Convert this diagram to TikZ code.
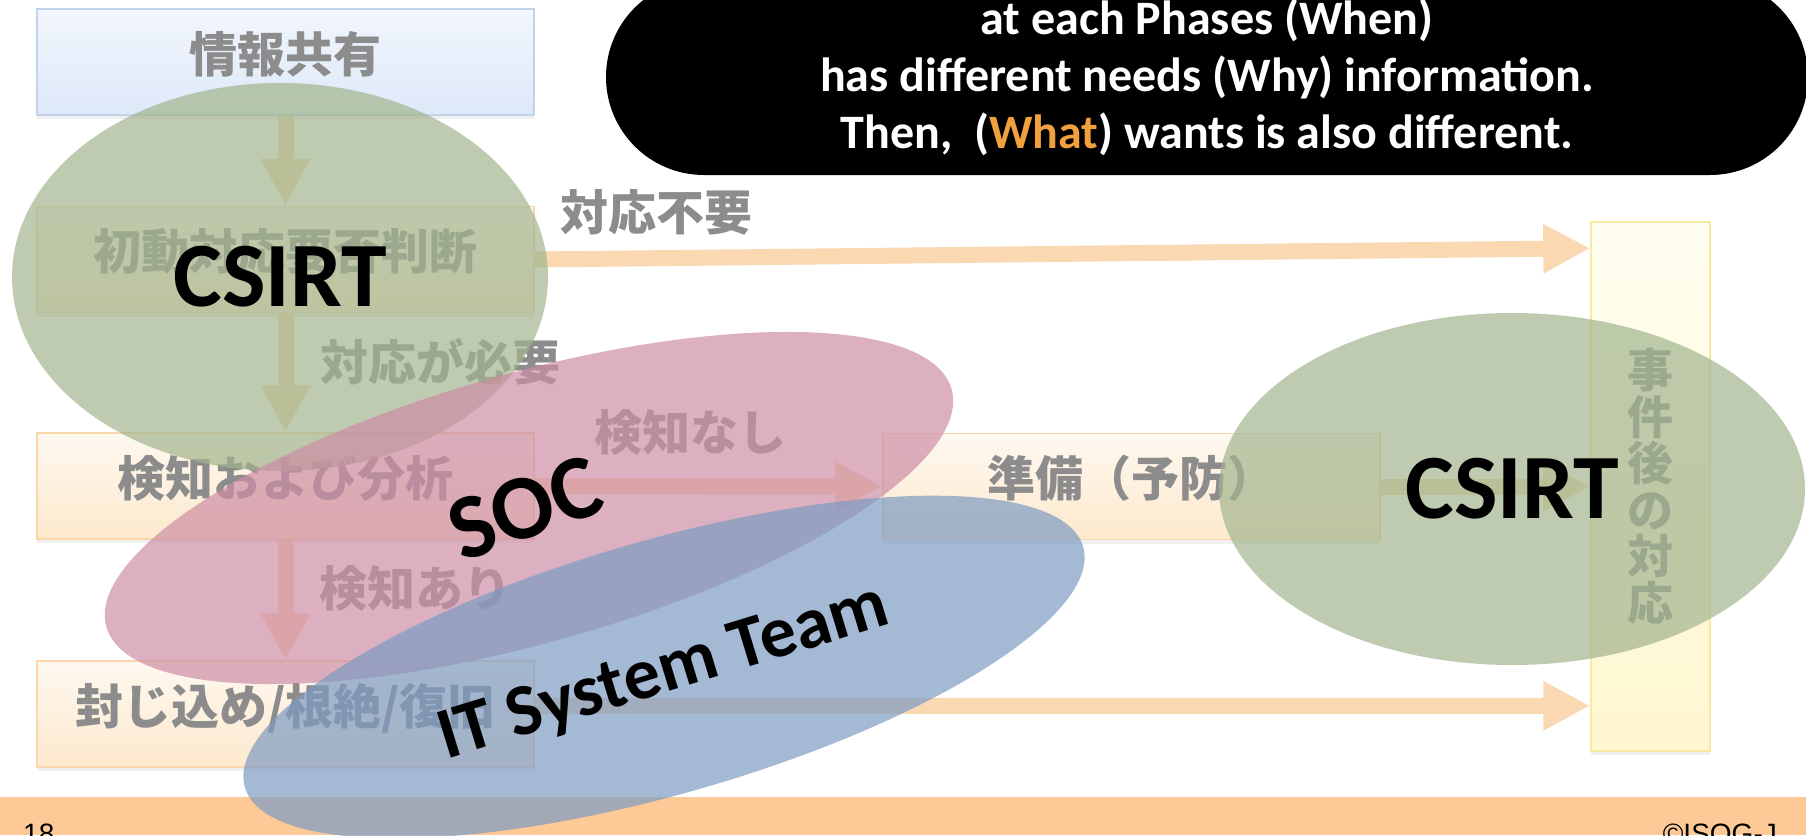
\documentclass[tikz,border=0pt]{standalone}
\usepackage{fontspec}
\setmainfont{Carlito}
\newfontfamily\jp{Noto Sans CJK JP}
\newfontfamily\arialf{Liberation Sans}
\usepackage{tikz}
\usetikzlibrary{shapes.geometric,shapes.misc,arrows.meta,shadows}
\usepackage{xcolor}

\definecolor{boxtext}{RGB}{140,140,140}
\definecolor{flowarrow}{RGB}{249,216,178}
\definecolor{orangetop}{RGB}{254,248,240}
\definecolor{orangebot}{RGB}{253,233,205}
\definecolor{orangeline}{RGB}{250,214,170}
\definecolor{bluetop}{RGB}{242,246,253}
\definecolor{bluebot}{RGB}{221,232,248}
\definecolor{blueline}{RGB}{192,211,235}
\definecolor{yellowtop}{RGB}{255,253,240}
\definecolor{yellowbot}{RGB}{255,247,208}
\definecolor{yellowline}{RGB}{249,233,160}
\definecolor{csirtgreen}{RGB}{162,181,142}
\definecolor{socpink}{RGB}{205,142,165}
\definecolor{itblue}{RGB}{125,155,194}
\definecolor{footband}{RGB}{252,201,151}
\definecolor{whatorange}{RGB}{240,160,60}

\tikzset{
  phase/.style={draw=orangeline, line width=1.5pt, top color=orangetop, bottom color=orangebot,
    minimum width=497pt, minimum height=106pt, inner sep=0pt, text=boxtext,
    text height=40pt, text depth=20pt,
    font=\jp\bfseries\fontsize{48}{56}\selectfont,
    drop shadow={opacity=0.12, shadow xshift=0pt, shadow yshift=-4pt}},
  flow/.style={draw=flowarrow, line width=16pt, -{Triangle[width=46pt,length=47pt]}},
  lbl/.style={text=boxtext, inner sep=0pt, font=\jp\bfseries\fontsize{48}{56}\selectfont},
  team/.style={ellipse, inner sep=0pt, fill opacity=0.7},
  teamname/.style={inner sep=0pt, font=\bfseries\fontsize{92}{100}\selectfont},
}

\begin{document}
\begin{tikzpicture}[x=1pt,y=-1pt]
\useasboundingbox (0,0) rectangle (1806,835);
\clip (0,0) rectangle (1806,835);
% phases
\node[phase, draw=blueline, top color=bluetop, bottom color=bluebot] (share) at (285.5,62) {情報共有};
\node[phase] (judge) at (285.5,259.5) {初動対応要否判断};
\node[phase] (detect) at (285.5,486) {検知および分析};
\node[phase] (contain) at (285.5,714) {封じ込め/根絶/復旧};
\node[phase] (prep) at (1131.5,486.5) {準備（予防）};
\node[phase, draw=yellowline, top color=yellowtop, bottom color=yellowbot, minimum width=119pt,
  minimum height=529pt, text height=, text depth=, align=center,
  font=\jp\bfseries\fontsize{46}{46.5}\selectfont]
  (post) at (1650.5,486.5) {事\\件\\後\\の\\対\\応};
% flow
\draw[flow] (share) -- (judge);
\draw[flow] (judge) -- (detect);
\draw[flow] (detect) -- (contain);
\draw[flow] (judge.east) -- ([yshift=-27pt]post.north west);
\draw[flow] (detect) -- (prep);
\draw[flow] (prep) -- (post);
\draw[flow] ([yshift=8pt]contain.east) -- ([yshift=46pt]post.south west);
\node[lbl] (nores) at (656,212) {対応不要};
\node[lbl] (needres) at (440,362) {対応が必要};
\node[lbl] (nodet) at (690,432) {検知なし};
\node[lbl] (det) at (415,588) {検知あり};
% footer
\fill[footband] (0,797) rectangle (1806,835);
\node[font=\arialf\fontsize{28}{30}\selectfont, anchor=base west, inner sep=0pt] (page) at (23,843) {18};
\node[font=\arialf\fontsize{28}{30}\selectfont, anchor=base east, inner sep=0pt] (copy) at (1777,843) {©ISOG-J};
% teams
\node[team, fill=csirtgreen, minimum width=536pt, minimum height=388pt] (csirtL) at (280,277) {};
\node[teamname] at (csirtL.center) {CSIRT};
\node[team, fill=socpink, minimum width=878pt, minimum height=270pt, rotate=15.7] (soc) at (529,508) {};
\node[teamname, rotate=20] at ([xshift=-4pt]soc.center) {SOC};
\node[team, fill=itblue, minimum width=872pt, minimum height=254pt, rotate=16] (itteam) at (664,667) {};
\node[teamname, rotate=17, font=\bfseries\fontsize{73}{80}\selectfont] at ([yshift=-7pt]itteam.center) {IT System Team};
\node[team, fill=csirtgreen, minimum width=586pt, minimum height=352pt] (csirtR) at (1512,489) {};
\node[teamname] at (csirtR.center) {CSIRT};
% message
\node[rounded rectangle, fill=black, text=white, minimum width=1202pt, minimum height=196pt,
  inner sep=0pt, align=center, font=\bfseries\fontsize{48}{57}\selectfont] (msg) at (1207,77)
  {at each Phases (When)\\has different needs (Why) information.\\Then,\ \ ({\color{whatorange}What}) wants is also different.};
\end{tikzpicture}
\end{document}
